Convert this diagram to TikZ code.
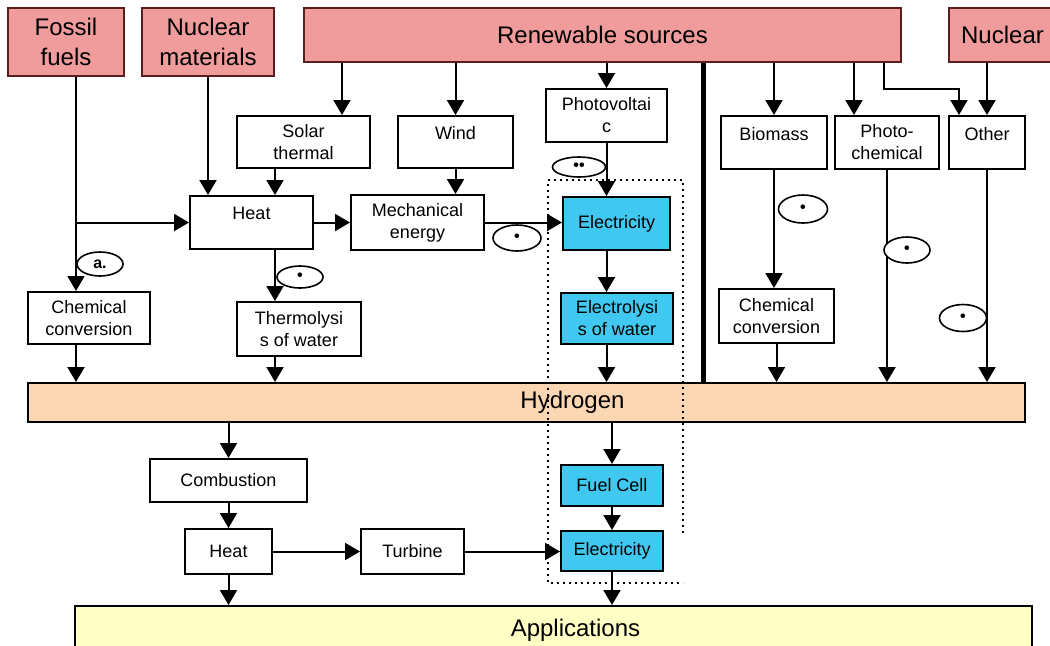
\documentclass[tikz,border=0pt]{standalone}
\usepackage{fontspec}
\setmainfont{Liberation Sans}
\usepackage{xcolor}
\usepackage{tikz}
\usetikzlibrary{arrows.meta,shapes.geometric}

\definecolor{srcfill}{HTML}{F09C9C}
\definecolor{srcline}{HTML}{5A1E1E}
\definecolor{hydfill}{HTML}{FBD6B2}
\definecolor{appfill}{HTML}{FFFFC6}
\definecolor{elecfill}{HTML}{40C8F0}

\tikzset{
    src/.style={draw=srcline, fill=srcfill, line width=1pt, align=center, inner sep=0pt,
        font=\fontsize{12}{15}\selectfont},
    box/.style={draw, fill=white, line width=1pt, align=center, inner sep=0pt,
        font=\fontsize{9}{11}\selectfont},
    elecbox/.style={box, fill=elecfill},
    upper/.style={text depth=9pt},
    note/.style={draw, ellipse, fill=white, line width=0.8pt, inner sep=0pt,
        font=\fontsize{8}{8}\selectfont\bfseries},
    arr/.style={-{Triangle[width=8.5pt,length=7.5pt]}, line width=1pt},
}

\begin{document}
\begin{tikzpicture}[x=0.5pt, y=-0.5pt]
        \useasboundingbox (0,0) rectangle (1050,645);

        % sources
        \node [src, minimum width=58pt, minimum height=34pt] (fossil) at (66,42) {Fossil\\fuels};
        \node [src, minimum width=66pt, minimum height=34pt] (nucmat) at (208,42) {Nuclear\\materials};
        \node [src, minimum width=298.5pt, minimum height=27pt] (renew) at (602.5,35) {Renewable sources};
        \node [src, minimum width=53.5pt, minimum height=27pt] (nucR) at (1002.5,35) {Nuclear};

        % primary conversion
        \node [box, minimum width=66.5pt, minimum height=26pt] (solar) at (303.5,142) {Solar\\thermal};
        \node [box, upper, minimum width=57.5pt, minimum height=26pt] (wind) at (455.5,142) {Wind};
        \node [box, minimum width=60.5pt, minimum height=26.5pt] (pv) at (606.5,115.5) {Photovoltai\\c};
        \node [box, upper, minimum width=53pt, minimum height=26.5pt] (biomass) at (774,142.5) {Biomass};
        \node [box, minimum width=52pt, minimum height=26.5pt] (photochem) at (887,142.5) {Photo-\\chemical};
        \node [box, upper, minimum width=38pt, minimum height=26.5pt] (other) at (987,142.5) {Other};

        \node [box, upper, minimum width=61.5pt, minimum height=26.5pt] (heat) at (251.5,222.5) {Heat};
        \node [box, minimum width=66.5pt, minimum height=27.5pt] (mech) at (417.5,222.5) {Mechanical\\energy};
        \node [elecbox, minimum width=53.5pt, minimum height=26.5pt] (elec) at (616.5,223.5) {Electricity};

        \node [box, minimum width=61pt, minimum height=26pt] (chemL) at (89,318) {Chemical\\conversion};
        \node [box, minimum width=62pt, minimum height=27pt] (thermo) at (299,329) {Thermolysi\\s of water};
        \node [elecbox, minimum width=56pt, minimum height=25.5pt] (elyz) at (617,318.5) {Electrolysi\\s of water};
        \node [box, minimum width=57.5pt, minimum height=27pt] (chemR) at (776.5,316) {Chemical\\conversion};

        % hydrogen and uses
        \node [draw, fill=hydfill, line width=1pt, inner sep=0pt, font=\fontsize{12}{14}\selectfont,
            minimum width=498.5pt, minimum height=19.5pt] (hydro) at (526.5,402.5) {\hspace*{46pt}Hydrogen};
        \node [box, minimum width=78.5pt, minimum height=21.5pt] (comb) at (228.5,480.5) {Combustion};
        \node [box, minimum width=43.5pt, minimum height=22.5pt] (heatB) at (228.5,551.5) {Heat};
        \node [box, minimum width=51.5pt, minimum height=22.5pt] (turb) at (412.5,551.5) {Turbine};
        \node [elecbox, minimum width=51pt, minimum height=20.5pt] (fuel) at (612,485.5) {Fuel Cell};
        \node [elecbox, minimum width=51pt, minimum height=20pt] (elecB) at (612,551) {Electricity};
        \node [draw, fill=appfill, line width=1pt, inner sep=0pt, font=\fontsize{12}{14}\selectfont,
            minimum width=478.5pt, minimum height=24.5pt] (apps) at (553.5,630.5) {\hspace*{22pt}Applications};

        % fossil and nuclear
        \draw [arr] ([xshift=5pt]fossil.south) -- ([xshift=5pt]fossil.south |- chemL.north);
        \draw [arr] ([xshift=5pt]fossil.south |- heat.west) -- (heat.west);
        \draw [arr] (nucmat.south) -- (nucmat.south |- heat.north);
        \draw [arr] ([xshift=5pt]fossil.south |- chemL.south) -- ([xshift=5pt]fossil.south |- hydro.north);

        % renewable branches
        \draw [arr] ([xshift=19.25pt]solar.north |- renew.south) -- ([xshift=19.25pt]solar.north);
        \draw [arr] ([xshift=11.75pt]heat.north |- solar.south) -- ([xshift=11.75pt]heat.north);
        \draw [arr] ([xshift=11.75pt]heat.south) -- ([xshift=11.75pt]heat.south |- thermo.north);
        \draw [arr] ([xshift=11.75pt]heat.south |- thermo.south) -- ([xshift=11.75pt]heat.south |- hydro.north);
        \draw [arr] (wind.north |- renew.south) -- (wind.north);
        \draw [arr] (wind.south) -- (wind.south |- mech.north);
        \draw [arr] (heat.east) -- (heat.east -| mech.west);
        \draw [arr] (mech.east) -- (mech.east -| elec.west);
        \draw [arr] (pv.north |- renew.south) -- (pv.north);
        \draw [arr] (pv.south) -- (pv.south |- elec.north);
        \draw [arr] (pv.south |- elec.south) -- (pv.south |- elyz.north);
        \draw [arr] (pv.south |- elyz.south) -- (pv.south |- hydro.north);

        \draw [line width=2.5pt] ([xshift=50.25pt]renew.south) -- ([xshift=50.25pt]renew.south |- hydro.north); % divider

        \draw [arr] (biomass.north |- renew.south) -- (biomass.north);
        \draw [arr] (biomass.south) -- (biomass.south |- chemR.north);
        \draw [arr] (chemR.south) -- (chemR.south |- hydro.north);
        \draw [arr] ([xshift=-16.5pt]photochem.north |- renew.south) -- ([xshift=-16.5pt]photochem.north);
        \draw [arr] (photochem.south) -- (photochem.south |- hydro.north);
        \draw [arr] ([xshift=140.75pt]renew.south) -- ++(0,26) -| ([xshift=-14pt]other.north);
        \draw [arr] (other.north |- nucR.south) -- (other.north);
        \draw [arr] (other.south) -- (other.south |- hydro.north);

        % uses of hydrogen
        \draw [arr] (comb.north |- hydro.south) -- (comb.north);
        \draw [arr] (comb.south) -- (heatB.north);
        \draw [arr] (heatB.south) -- (heatB.south |- apps.north);
        \draw [arr] (heatB.east) -- (turb.west);
        \draw [arr] (turb.east) -- (turb.east -| elecB.west);
        \draw [arr] (fuel.north |- hydro.south) -- (fuel.north);
        \draw [arr] (fuel.south) -- (elecB.north);
        \draw [arr] (elecB.south) -- (elecB.south |- apps.north);

        \draw [dotted, line width=1pt] (683,533) -- (683,180) -- (548,180) -- (548,583) -- (683,583); % electrolysis frame

        % notes
        \node [note, minimum width=23pt, minimum height=12pt] (n1) at (100,264) {a.};
        \node [note, minimum width=23pt, minimum height=11pt] (n2) at (300,277) {•};
        \node [note, minimum width=26.5pt, minimum height=10pt] (n3) at (579,167) {••};
        \node [note, minimum width=24pt, minimum height=13pt] (n4) at (517,238) {•};
        \node [note, minimum width=24.5pt, minimum height=14pt] (n5) at (803,209) {•};
        \node [note, minimum width=23pt, minimum height=13pt] (n6) at (907,250) {•};
        \node [note, minimum width=23.5pt, minimum height=13.5pt] (n7) at (963,318) {•};
    \end{tikzpicture}
\end{document}
